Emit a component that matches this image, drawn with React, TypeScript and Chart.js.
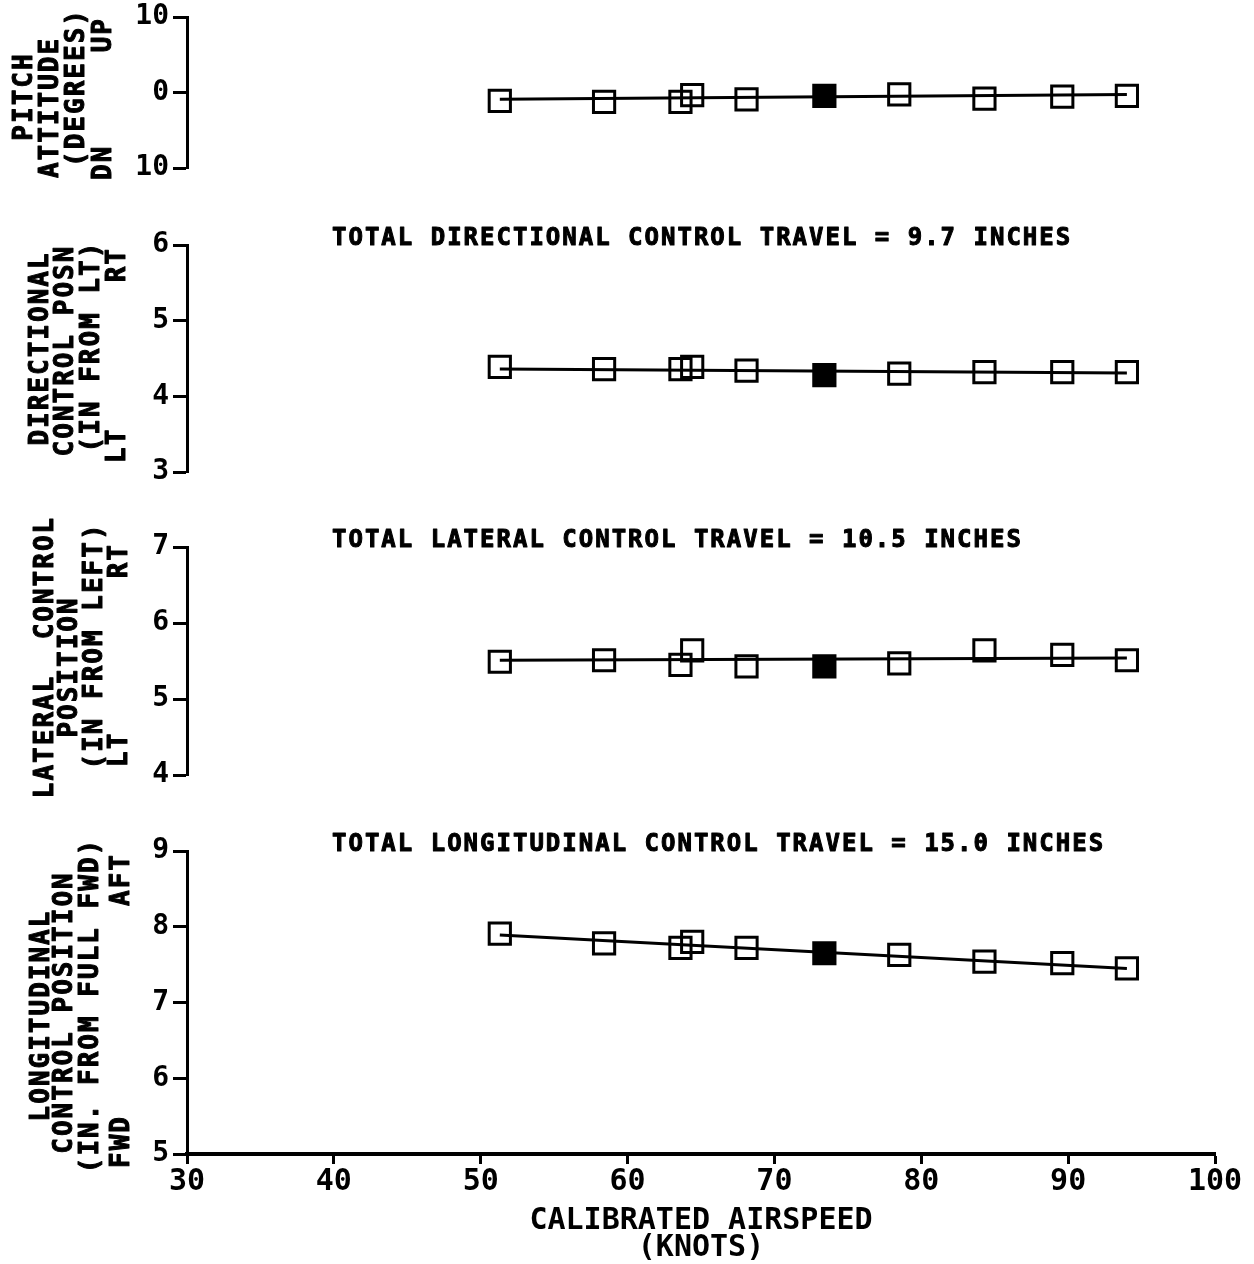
import React, { useEffect, useRef } from 'react';
import { Chart, registerables } from 'chart.js';

Chart.register(...registerables);

// ---------------- data ----------------
const AIRSPEED = [51.3, 58.4, 63.6, 64.4, 68.1, 73.4, 78.5, 84.3, 89.6, 94.0];
const SOLID_POINT = [0, 0, 0, 0, 0, 1, 0, 0, 0, 0];
const FIT_AIRSPEED = [51.3, 94.0];

const PITCH = [-1.1, -1.25, -1.25, -0.35, -0.9, -0.45, -0.25, -0.8, -0.55, -0.45];
const PITCH_FIT = [-0.9, -0.25];
const DIRECTIONAL = [4.39, 4.36, 4.36, 4.39, 4.34, 4.28, 4.3, 4.32, 4.32, 4.32];
const DIRECTIONAL_FIT = [4.36, 4.31];
const LATERAL = [5.49, 5.51, 5.45, 5.64, 5.43, 5.43, 5.47, 5.64, 5.58, 5.51];
const LATERAL_FIT = [5.51, 5.54];
const LONGITUDINAL = [7.91, 7.78, 7.72, 7.8, 7.72, 7.65, 7.63, 7.54, 7.52, 7.45];
const LONGITUDINAL_FIT = [7.89, 7.45];

const X_TICKS = [30, 40, 50, 60, 70, 80, 90, 100];
const X_TICK_LABELS = ['30', '40', '50', '60', '70', '80', '90', '100'];
const PITCH_TICKS = [-10, 0, 10];
const PITCH_TICK_LABELS = ['10', '0', '10'];
const DIRECTIONAL_TICKS = [3, 4, 5, 6];
const DIRECTIONAL_TICK_LABELS = ['3', '4', '5', '6'];
const LATERAL_TICKS = [4, 5, 6, 7];
const LATERAL_TICK_LABELS = ['4', '5', '6', '7'];
const LONGITUDINAL_TICKS = [5, 6, 7, 8, 9];
const LONGITUDINAL_TICK_LABELS = ['5', '6', '7', '8', '9'];

const X_TITLE = ['CALIBRATED AIRSPEED', '(KNOTS)'];

const MONO = "'DejaVu Sans Mono', monospace";

type Spec = {
  values: number[];
  fit: number[];
  ticks: number[];
  tickLabels: string[];
  title?: string;
  lines: string[];
  low: string;
  high: string;
  // layout
  top: number;
  bottom: number;
  cols: number[];
  lineOffsets: number[];
  lowOffset: number;
  highOffset: number;
  showX: boolean;
};

const PANELS: Spec[] = [
  {
    values: PITCH, fit: PITCH_FIT, ticks: PITCH_TICKS, tickLabels: PITCH_TICK_LABELS,
    lines: ['PITCH', 'ATTITUDE', '(DEGREES)'], low: 'DN', high: 'UP',
    top: 17, bottom: 168, cols: [25, 51, 77, 104], lineOffsets: [4, 15, -5],
    lowOffset: 12, highOffset: 0, showX: false,
  },
  {
    values: DIRECTIONAL, fit: DIRECTIONAL_FIT, ticks: DIRECTIONAL_TICKS, tickLabels: DIRECTIONAL_TICK_LABELS,
    title: 'TOTAL DIRECTIONAL CONTROL TRAVEL = 9.7 INCHES',
    lines: ['DIRECTIONAL', 'CONTROL POSN', '(IN FROM LT)'], low: 'LT', high: 'RT',
    top: 245, bottom: 472, cols: [41, 66, 92, 118], lineOffsets: [-10, -8, -12],
    lowOffset: -9, highOffset: 2, showX: false,
  },
  {
    values: LATERAL, fit: LATERAL_FIT, ticks: LATERAL_TICKS, tickLabels: LATERAL_TICK_LABELS,
    title: 'TOTAL LATERAL CONTROL TRAVEL = 10.5 INCHES',
    lines: ['LATERAL  CONTROL', 'POSITION', '(IN FROM LEFT)'], low: 'LT', high: 'RT',
    top: 547, bottom: 775, cols: [46, 70, 95, 120], lineOffsets: [-4, 6, -15],
    lowOffset: -8, highOffset: -4, showX: false,
  },
  {
    values: LONGITUDINAL, fit: LONGITUDINAL_FIT, ticks: LONGITUDINAL_TICKS, tickLabels: LONGITUDINAL_TICK_LABELS,
    title: 'TOTAL LONGITUDINAL CONTROL TRAVEL = 15.0 INCHES',
    lines: ['LONGITUDINAL', 'CONTROL POSITION', '(IN. FROM FULL FWD)'], low: 'FWD', high: 'AFT',
    top: 851, bottom: 1154, cols: [42, 65, 91, 122], lineOffsets: [13, 10, 3],
    lowOffset: 14, highOffset: 2, showX: true,
  },
];

const PAD = 45;
const X_AXIS_H = 110;
const RIGHT_PAD = 39;

function boldText(ctx: CanvasRenderingContext2D, t: string, x: number, y: number) {
  ctx.fillText(t, x, y);
  ctx.strokeText(t, x, y);
}

function PanelChart({ spec }: { spec: Spec }) {
  const ref = useRef<HTMLCanvasElement>(null);
  const canvasTop = spec.top - PAD;
  const height = spec.showX
    ? spec.bottom - spec.top + PAD + X_AXIS_H
    : spec.bottom - spec.top + 2 * PAD;

  useEffect(() => {
    const canvas = ref.current;
    if (!canvas) return;

    const textPlugin = {
      id: 'panelText',
      afterDraw(chart: any) {
        const { ctx, chartArea } = chart;
        const mid = (chartArea.top + chartArea.bottom) / 2;
        ctx.save();
        ctx.fillStyle = '#000';
        ctx.strokeStyle = '#000';
        ctx.lineWidth = 1;
        ctx.lineJoin = 'round';
        if (spec.title) {
          ctx.font = `bold 24px ${MONO}`;
          (ctx as any).letterSpacing = '2px';
          ctx.textAlign = 'left';
          ctx.textBaseline = 'middle';
          boldText(ctx, spec.title, 332, chartArea.top - 6);
        }
        ctx.font = `bold 26px ${MONO}`;
        (ctx as any).letterSpacing = '2px';
        ctx.textBaseline = 'middle';
        spec.lines.forEach((t, i) => {
          ctx.save();
          ctx.translate(spec.cols[i], mid + spec.lineOffsets[i]);
          ctx.rotate(-Math.PI / 2);
          ctx.textAlign = 'center';
          boldText(ctx, t, 0, 0);
          ctx.restore();
        });
        const c = spec.cols[3];
        ctx.save();
        ctx.translate(c, chartArea.bottom + spec.lowOffset);
        ctx.rotate(-Math.PI / 2);
        ctx.textAlign = 'left';
        boldText(ctx, spec.low, 0, 0);
        ctx.restore();
        ctx.save();
        ctx.translate(c, chartArea.top + spec.highOffset);
        ctx.rotate(-Math.PI / 2);
        ctx.textAlign = 'right';
        boldText(ctx, spec.high, 0, 0);
        ctx.restore();
        ctx.restore();
      },
    };

    const points = AIRSPEED.map((x, i) => ({ x, y: spec.values[i] }));
    const fitPoints = FIT_AIRSPEED.map((x, i) => ({ x, y: spec.fit[i] }));
    const yMin = Math.min(...spec.ticks);
    const yMax = Math.max(...spec.ticks);

    const chart = new Chart(canvas, {
      type: 'line',
      data: {
        datasets: [
          {
            label: 'fit',
            data: fitPoints,
            borderColor: '#000',
            borderWidth: 3,
            pointRadius: 0,
            fill: false,
            tension: 0,
          },
          {
            label: 'data',
            data: points,
            showLine: false,
            pointStyle: 'rect',
            pointRadius: 15,
            pointBorderWidth: 3,
            pointBorderColor: '#000',
            pointBackgroundColor: SOLID_POINT.map((s) => (s ? '#000' : 'rgba(0,0,0,0)')),
          },
        ],
      },
      options: {
        animation: false,
        responsive: false,
        devicePixelRatio: 1,
        layout: {
          padding: { left: 0, right: RIGHT_PAD, top: PAD, bottom: spec.showX ? 0 : PAD },
        },
        plugins: {
          legend: { display: false },
          tooltip: { enabled: false },
        },
        scales: {
          x: {
            type: 'linear',
            min: 30,
            max: 100,
            display: spec.showX,
            afterBuildTicks: (s: any) => {
              s.ticks = X_TICKS.map((v) => ({ value: v }));
            },
            afterFit: (s: any) => {
              s.height = spec.showX ? X_AXIS_H : 0;
            },
            grid: {
              display: true,
              drawOnChartArea: false,
              drawTicks: true,
              tickLength: 10,
              tickWidth: 3,
              tickColor: '#000',
              color: '#000',
            },
            border: { display: true, color: '#000', width: 4 },
            ticks: {
              color: '#000',
              padding: 0,
              maxRotation: 0,
              autoSkip: false,
              font: { family: MONO, size: 30, weight: 'bold' },
              callback: (v: any) => X_TICK_LABELS[X_TICKS.indexOf(Number(v))] ?? '',
            },
            title: {
              display: true,
              text: X_TITLE,
              color: '#000',
              font: { family: MONO, size: 30, weight: 'bold', lineHeight: 0.9 },
              padding: { top: 0, bottom: 2 },
            },
          },
          y: {
            type: 'linear',
            position: 'left',
            min: yMin,
            max: yMax,
            afterBuildTicks: (s: any) => {
              s.ticks = spec.ticks.map((v) => ({ value: v }));
            },
            afterFit: (s: any) => {
              s.width = 187;
            },
            grid: {
              display: true,
              drawOnChartArea: false,
              drawTicks: true,
              tickLength: 14,
              tickWidth: 3,
              tickColor: '#000',
              color: '#000',
            },
            border: { display: true, color: '#000', width: 3 },
            ticks: {
              color: '#000',
              padding: 4,
              autoSkip: false,
              font: { family: MONO, size: 28, weight: 'bold' },
              callback: (v: any) => spec.tickLabels[spec.ticks.indexOf(Number(v))] ?? '',
            },
          },
        },
      } as any,
      plugins: [textPlugin],
    });
    return () => chart.destroy();
  }, []);

  return (
    <canvas
      ref={ref}
      width={1254}
      height={height}
      style={{ position: 'absolute', left: 0, top: canvasTop, width: 1254, height, display: 'block' }}
    />
  );
}

export default function App() {
  return (
    <div
      style={{
        position: 'fixed',
        left: 0,
        top: 0,
        width: 1254,
        height: 1264,
        background: '#fff',
        overflow: 'hidden',
      }}
    >
      {PANELS.map((p, i) => (
        <PanelChart key={i} spec={p} />
      ))}
    </div>
  );
}
